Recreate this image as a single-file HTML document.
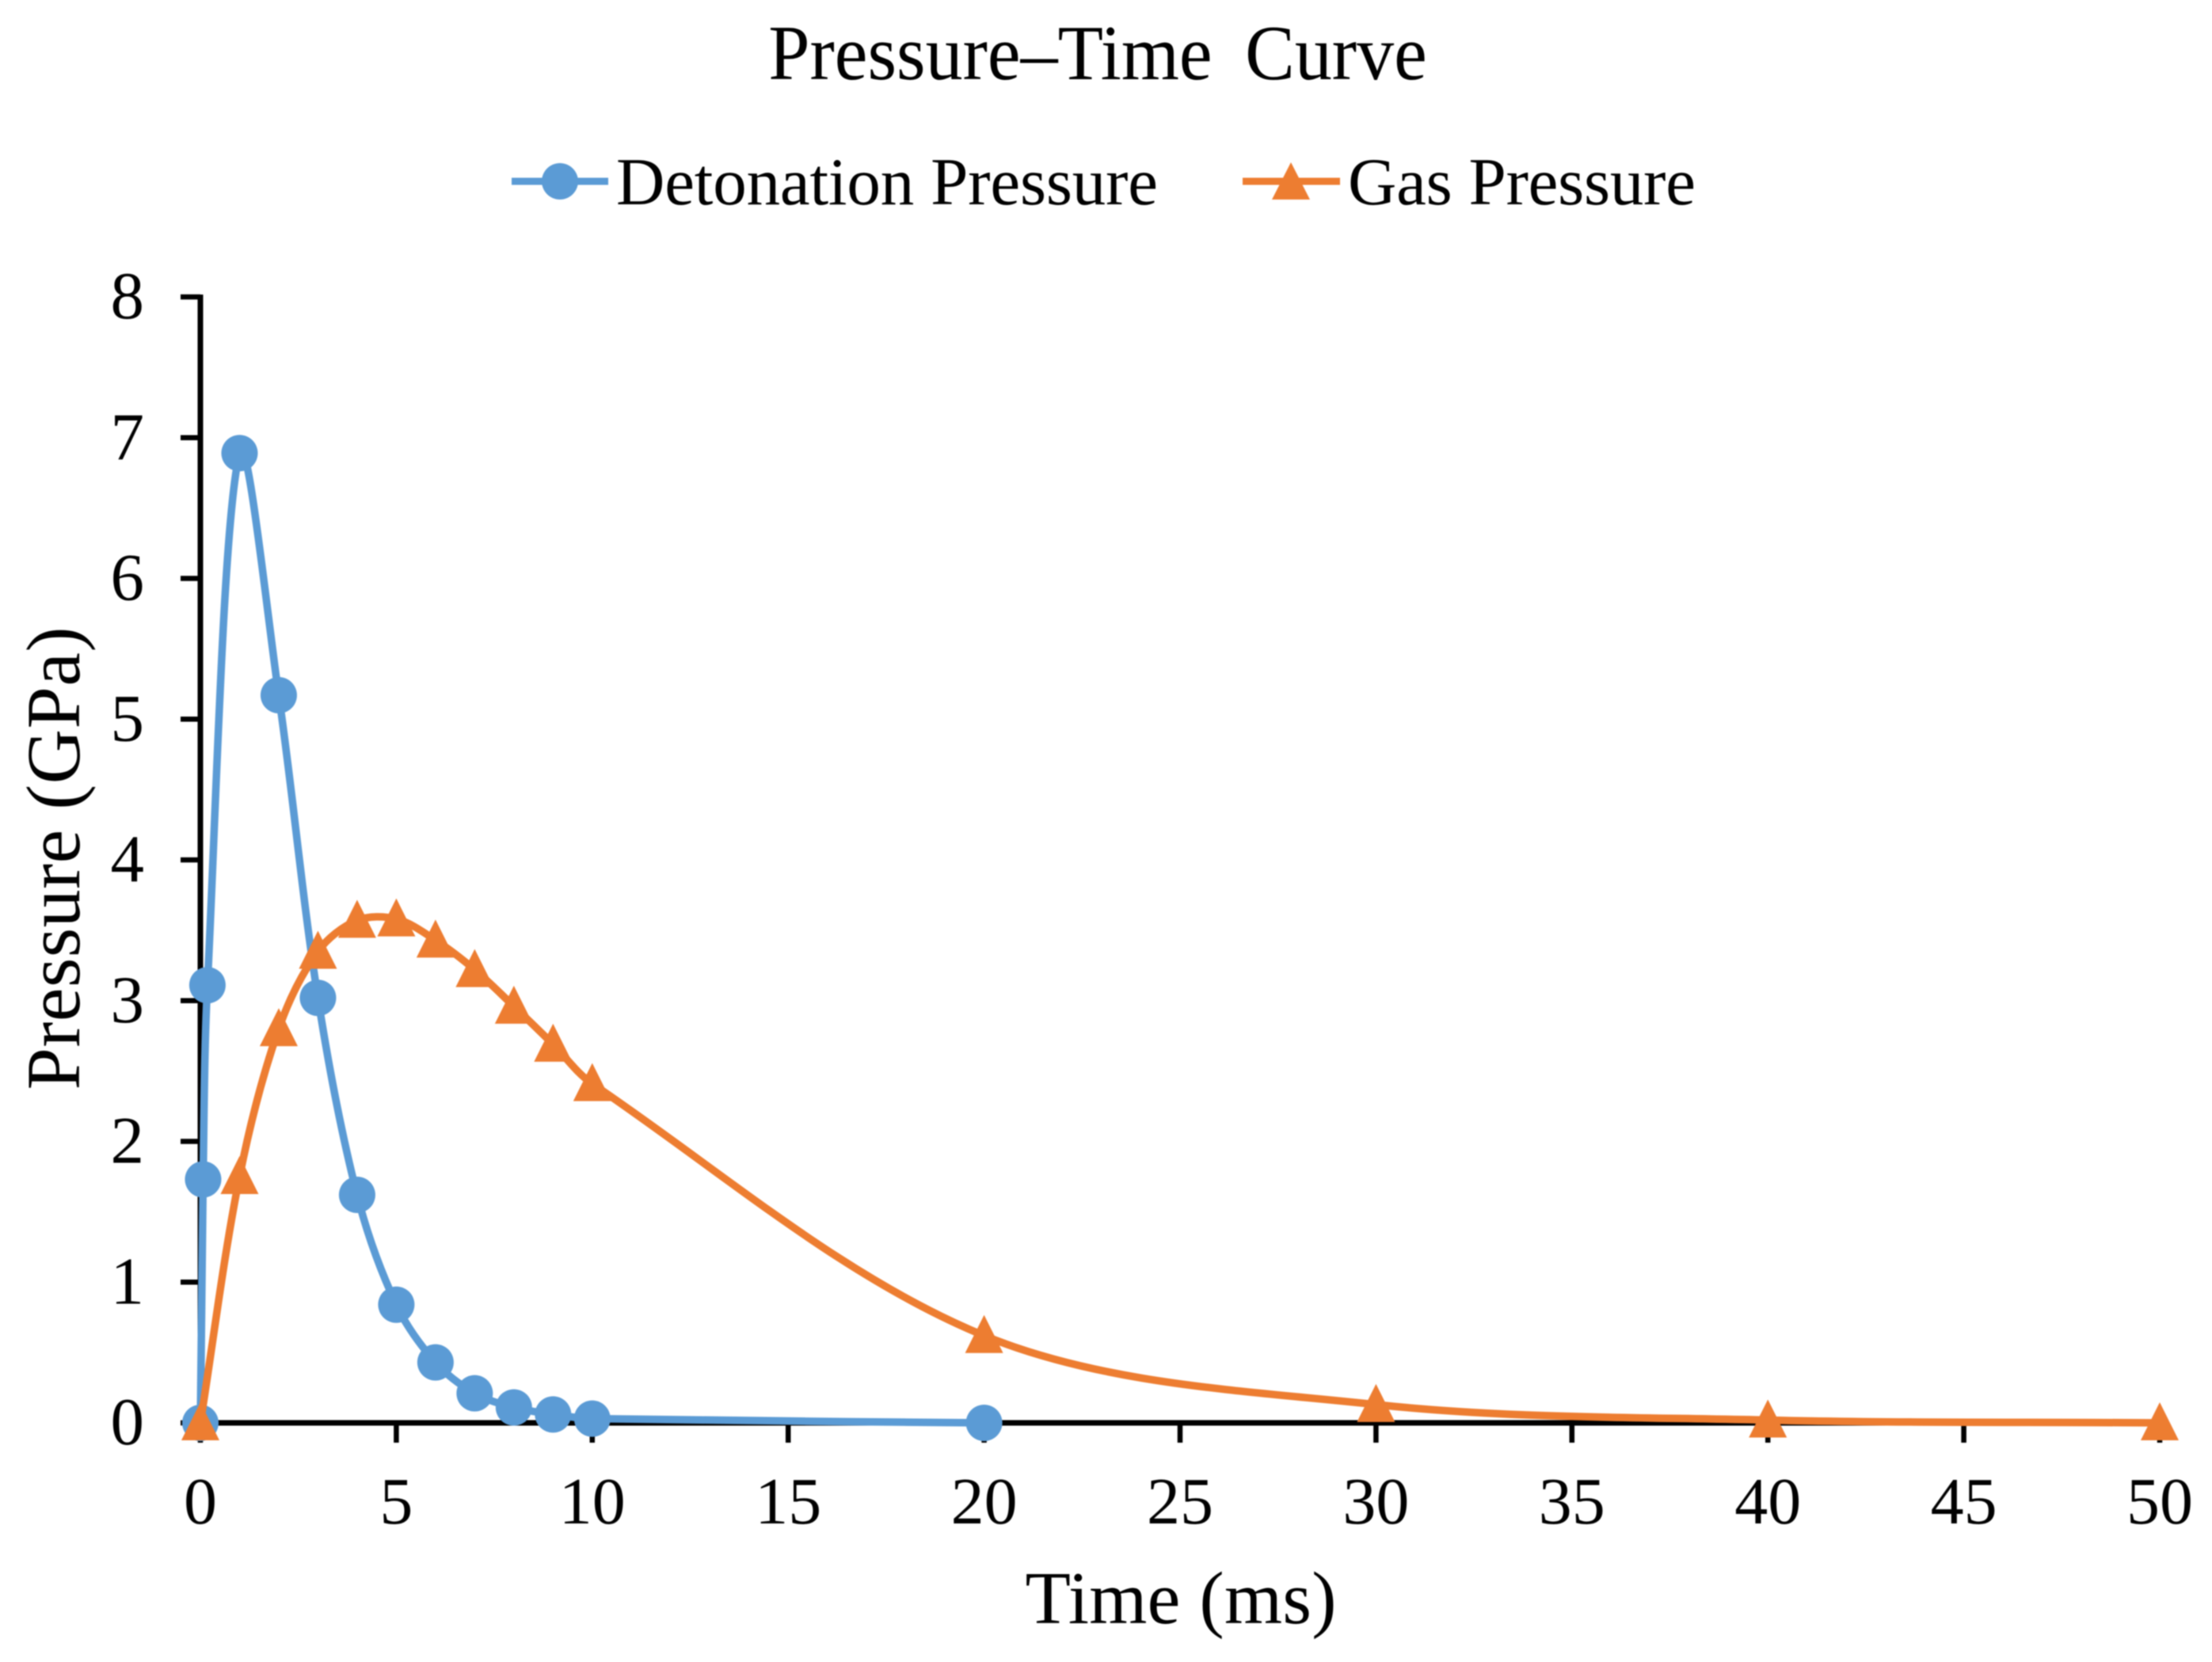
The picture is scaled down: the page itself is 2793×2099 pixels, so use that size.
<!DOCTYPE html>
<html lang="en">
<head>
<meta charset="utf-8">
<title>Pressure–Time Curve</title>
<style>
html,body{margin:0;padding:0;background:#fff;}
svg{display:block;filter:blur(0.8px);}
text{font-family:"Liberation Serif","Times New Roman",serif;fill:#000;}
</style>
</head>
<body>
<svg id="chart" xmlns="http://www.w3.org/2000/svg" width="2793" height="2099" viewBox="0 0 2793 2099">
  <rect x="0" y="0" width="2793" height="2099" fill="#fff"/>
  <text transform="translate(1386 100) scale(1 1.05)" x="0" y="0" font-size="94" text-anchor="middle" word-spacing="18">Pressure–Time Curve</text>

  <g>
    <g>
      <line x1="646" y1="229" x2="768" y2="229" stroke="#5B9BD5" stroke-width="9"/>
      <circle cx="707" cy="229" r="23" fill="#5B9BD5"/>
      <text x="778" y="258" font-size="85" textLength="684" lengthAdjust="spacing">Detonation Pressure</text>
    </g>
    <g>
      <line x1="1569" y1="229" x2="1692" y2="229" stroke="#ED7D31" stroke-width="9"/>
      <polygon points="1630,205 1654,252 1606,252" fill="#ED7D31"/>
      <text x="1702" y="258" font-size="85" textLength="439" lengthAdjust="spacing">Gas Pressure</text>
    </g>
  </g>

  <g id="axes"></g>
  <g id="series"></g>

  <text x="1491" y="2050" font-size="94" text-anchor="middle" textLength="393" lengthAdjust="spacing">Time (ms)</text>
  <text transform="translate(100 1084) rotate(-90)" x="0" y="0" font-size="96" text-anchor="middle" textLength="585" lengthAdjust="spacing">Pressure (GPa)</text>
</svg>

<script>
const xTickLabels = [0, 5, 10, 15, 20, 25, 30, 35, 40, 45, 50];
const yTickLabels = [0, 1, 2, 3, 4, 5, 6, 7, 8];

const detonationTimes = [0, 0.07, 0.18, 1, 2, 3, 4, 5, 6, 7, 8, 9, 10, 20];
const detonationPressures = [0, 1.73, 3.11, 6.89, 5.17, 3.02, 1.62, 0.84, 0.43, 0.21, 0.11, 0.06, 0.03, 0];

const gasTimes = [0, 1, 2, 3, 4, 5, 6, 7, 8, 9, 10, 20, 30, 40, 50];
const gasPressures = [0, 1.75, 2.8, 3.35, 3.57, 3.58, 3.43, 3.22, 2.96, 2.69, 2.41, 0.62, 0.13, 0.02, 0];

const SVG_NS = 'http://www.w3.org/2000/svg';
const plot = { left: 253, right: 2727, top: 375, bottom: 1797, xMax: 50, yMax: 8 };

function xScale(v) {
  return plot.left + (v / plot.xMax) * (plot.right - plot.left);
}
function yScale(v) {
  return plot.bottom - (v / plot.yMax) * (plot.bottom - plot.top);
}
function make(tag, attrs, parent) {
  const el = document.createElementNS(SVG_NS, tag);
  for (const k in attrs) el.setAttribute(k, attrs[k]);
  parent.appendChild(el);
  return el;
}

// Excel-style smoothed path: chord-weighted Catmull-Rom tangents.
function smoothPath(pts) {
  let d = 'M' + pts[0][0].toFixed(2) + ' ' + pts[0][1].toFixed(2);
  const dist = (a, b) => Math.hypot(a[0] - b[0], a[1] - b[1]);
  for (let i = 0; i < pts.length - 1; i++) {
    const p0 = pts[Math.max(i - 1, 0)], p1 = pts[i], p2 = pts[i + 1], p3 = pts[Math.min(i + 2, pts.length - 1)];
    const d01 = dist(p0, p1), d12 = dist(p1, p2), d23 = dist(p2, p3);
    const w1 = d12 / ((d01 + d12) || 1) / 3;
    const w2 = d12 / ((d12 + d23) || 1) / 3;
    const c1 = [p1[0] + (p2[0] - p0[0]) * w1, p1[1] + (p2[1] - p0[1]) * w1];
    const c2 = [p2[0] - (p3[0] - p1[0]) * w2, p2[1] - (p3[1] - p1[1]) * w2];
    d += ' C' + c1[0].toFixed(2) + ' ' + c1[1].toFixed(2) + ' ' + c2[0].toFixed(2) + ' ' + c2[1].toFixed(2) + ' ' + p2[0].toFixed(2) + ' ' + p2[1].toFixed(2);
  }
  return d;
}

const axes = document.getElementById('axes');
const series = document.getElementById('series');

// Axis lines
const yAxisLine = make('line', { x1: plot.left, y1: plot.top - 3, x2: plot.left, y2: plot.bottom + 3, stroke: '#000', 'stroke-width': 7 }, axes);


const xAxisLine = make('line', { x1: plot.left, y1: plot.bottom, x2: plot.right, y2: plot.bottom, stroke: '#000', 'stroke-width': 7 }, axes);



// Y ticks and labels
yTickLabels.forEach(function (v) {
  const y = yScale(v);
  const tick = make('line', { x1: plot.left - 25, y1: y, x2: plot.left, y2: y, stroke: '#000', 'stroke-width': 6.5 }, axes);
  
  
  const label = make('text', { x: 182, y: y + 27, 'font-size': 85, 'text-anchor': 'end' }, axes);
  
  
  label.textContent = String(v);
});

// X ticks and labels
xTickLabels.forEach(function (v) {
  const x = xScale(v);
  const tick = make('line', { x1: x, y1: plot.bottom, x2: x, y2: plot.bottom + 25, stroke: '#000', 'stroke-width': 6.5 }, axes);
  
  
  const label = make('text', { x: x, y: 1924, 'font-size': 84, 'text-anchor': 'middle' }, axes);
  
  
  label.textContent = String(v);
});

// Detonation series
const detonationPts = detonationTimes.map(function (t, i) { return [xScale(t), yScale(detonationPressures[i])]; });
const detonationLine = make('path', { d: smoothPath(detonationPts), fill: 'none', stroke: '#5B9BD5', 'stroke-width': 9.5, 'stroke-linejoin': 'round', 'stroke-linecap': 'round' }, series);


detonationPts.forEach(function (p, i) {
  const dot = make('circle', { cx: p[0], cy: p[1], r: 23, fill: '#5B9BD5' }, series);
  
  
});

// Gas series
const gasPts = gasTimes.map(function (t, i) { return [xScale(t), yScale(gasPressures[i])]; });
const gasLine = make('path', { d: smoothPath(gasPts), fill: 'none', stroke: '#ED7D31', 'stroke-width': 9.5, 'stroke-linejoin': 'round', 'stroke-linecap': 'round' }, series);


gasPts.forEach(function (p, i) {
  const points = p[0] + ',' + (p[1] - 26) + ' ' + (p[0] + 24) + ',' + (p[1] + 22) + ' ' + (p[0] - 24) + ',' + (p[1] + 22);
  const tri = make('polygon', { points: points, fill: '#ED7D31' }, series);
  
  
});
</script>
</body>
</html>
